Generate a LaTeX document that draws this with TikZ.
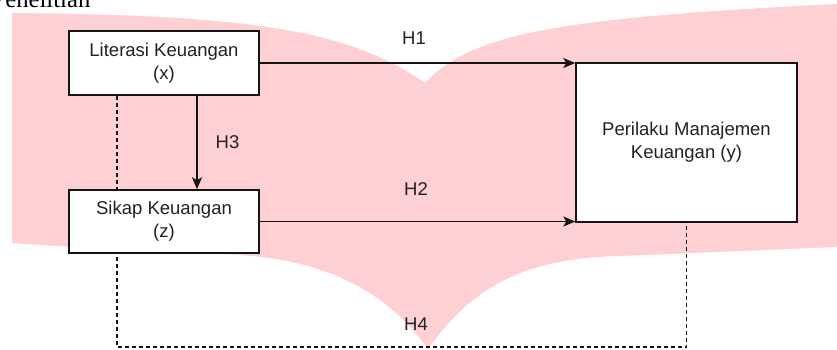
\documentclass[tikz,border=0pt]{standalone}
\usepackage{fontspec}
\setmainfont{Liberation Sans}
\newfontfamily\titleserif{Liberation Serif}
\usetikzlibrary{arrows.meta,backgrounds}
\definecolor{bookpink}{RGB}{255,208,211}
\definecolor{txtgray}{RGB}{34,34,34}
\definecolor{linegray}{RGB}{20,20,20}
\begin{document}
\begin{tikzpicture}[x=1pt,y=-1pt,
  varbox/.style={draw=linegray, line width=1.5pt, fill=white, align=center,
    font=\fontsize{18.5}{23}\selectfont, text=txtgray, inner sep=0pt},
  hlabel/.style={font=\fontsize{18.5}{23}\selectfont, text=txtgray, inner sep=0pt},
  conn/.style={draw=linegray, line width=1.5pt, -{Stealth[length=12pt,width=10pt,inset=3pt]}},
  dashconn/.style={draw=linegray, line width=1.5pt, dash pattern=on 4pt off 3pt}
]
\useasboundingbox (0,0) rectangle (837,349);
% title (cut off at the picture's edge, as in the reference)
\node[anchor=base west, inner sep=0pt, font=\titleserif\fontsize{24.7}{28}\selectfont] (title) at (-8.6,7.5) {Penelitian};

% nodes
\node[varbox, minimum width=190pt, minimum height=64pt] (lit) at (164,63) {Literasi Keuangan\\(x)};
\node[varbox, minimum width=190pt, minimum height=63pt] (sik) at (164,221.5) {Sikap Keuangan\\(z)};
\node[varbox, minimum width=221pt, minimum height=159pt] (per) at (686.5,142.5) {Perilaku Manajemen\\Keuangan (y)};

\coordinate (botline) at (400,347);

\begin{pgfonlayer}{background}
  \fill[bookpink] (12,13) .. controls (250,15) and (350,30) .. (425,83)
    .. controls (470,35) and (550,18) .. (837,4)
    -- (837,247) -- (620,256)
    .. controls (520,258) and (470,290) .. (428,349)
    .. controls (400,310) and (350,262) .. (240,255)
    .. controls (150,250) and (60,247) .. (12,243) -- cycle;
  \draw[dashconn] ([xshift=-47pt]lit.south) |- (botline) -| (per.south);
\end{pgfonlayer}

% connectors
\draw[conn] (lit.east) -- (lit.east -| per.west);
\draw[conn] (sik.east) -- (sik.east -| per.west);
\draw[conn] ([xshift=33pt]lit.south) -- ([xshift=33pt]sik.north);

% labels
\node[hlabel] (h1) at (414,38) {H1};
\node[hlabel] (h2) at (416,189) {H2};
\node[hlabel] (h3) at (227.5,142) {H3};
\node[hlabel] (h4) at (416,324) {H4};
\end{tikzpicture}
\end{document}
